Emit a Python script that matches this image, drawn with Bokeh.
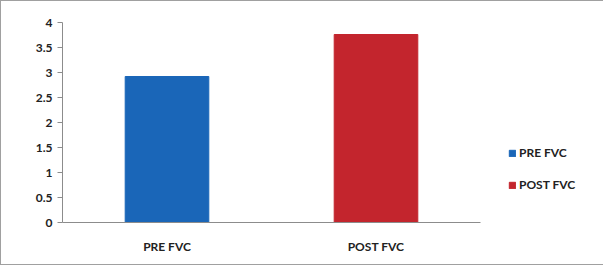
from bokeh.plotting import figure
from bokeh.models import ColumnDataSource, Legend, LegendItem, FixedTicker
from bokeh.embed import file_html
from bokeh.resources import INLINE

categories = ["PRE FVC", "POST FVC"]
values = [2.92, 3.76]
colors = ["#1A66B8", "#C3252D"]
y_ticks = [0, 0.5, 1, 1.5, 2, 2.5, 3, 3.5, 4]

src = ColumnDataSource(dict(cat=categories, val=values, col=colors))

p = figure(x_range=categories, y_range=(0, 4), output_backend="svg", toolbar_location=None,
           frame_width=418, frame_height=200,
           min_border_left=61, min_border_right=108, min_border_top=21, min_border_bottom=42)
p.styles = {"border": "1px solid #a0a0a0"}
p.outline_line_color = None
p.xgrid.grid_line_color = None
p.ygrid.grid_line_color = None
p.x_range.range_padding = 0

r = p.vbar(x="cat", top="val", width=0.4, color="col", source=src)

FONT = "Lato"
p.yaxis.ticker = FixedTicker(ticks=y_ticks)
p.yaxis.major_label_overrides = {0: "0", 1: "1", 2: "2", 3: "3", 4: "4"}
for ax in (p.xaxis[0], p.yaxis[0]):
    ax.axis_line_color = "#8c8c8c"
    ax.major_tick_line_color = "#8c8c8c"
    ax.minor_tick_line_color = None
    ax.major_label_text_font = FONT
    ax.major_label_text_font_size = "12px"
    ax.major_label_text_color = "#222222"
    ax.major_label_text_font_style = "bold"
p.yaxis.major_tick_in = 0
p.yaxis.major_tick_out = 5
p.xaxis.major_tick_line_color = None
p.xaxis.major_label_standoff = 10

items = [LegendItem(label=categories[i], renderers=[r], index=i) for i in range(2)]
legend = Legend(items=items, location=(28, 30), orientation="vertical",
                label_text_font=FONT, label_text_font_size="12px", label_text_color="#222222",
                label_text_font_style="bold",
                glyph_width=8, glyph_height=8, spacing=17, padding=0, margin=0,
                border_line_color=None, background_fill_alpha=0, label_standoff=3)
p.add_layout(legend, "right")

open("out.html", "w").write(file_html(p, INLINE))
